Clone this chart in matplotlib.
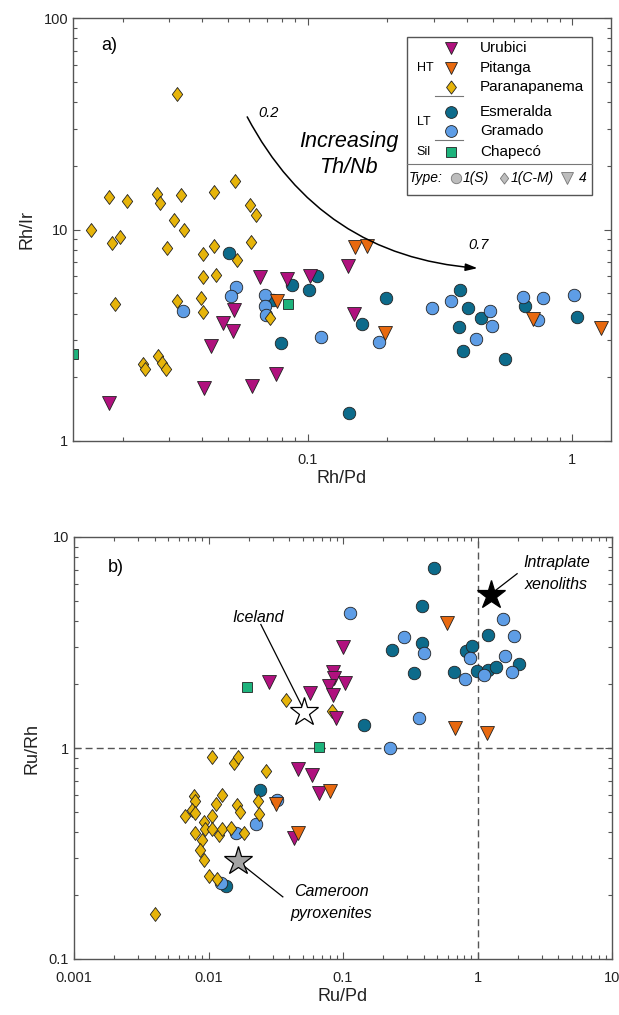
import matplotlib
matplotlib.use("Agg")
import matplotlib.pyplot as plt
from matplotlib.patches import Rectangle
from matplotlib.lines import Line2D

plt.rcParams['font.family'] = ['Liberation Sans', 'DejaVu Sans']

# colours
C_URU = '#B0117E'
C_PIT = '#E8690F'
C_PAR = '#E6B40A'
C_ESM = '#0D6B8B'
C_GRA = '#5E9DE6'
C_CHA = '#1DB37C'
EDGE = '#222222'

DIAMOND = [(0, 1), (0.75, 0), (0, -1), (-0.75, 0), (0, 1)]

# ---------- panel a) Rh/Pd vs Rh/Ir ----------
par_a_x = [0.032, 0.0533, 0.0178, 0.0208, 0.0269, 0.0277, 0.0334, 0.0443, 0.0313, 0.034,
           0.0607, 0.0636, 0.0152, 0.0183, 0.0195, 0.0294, 0.0443, 0.0403, 0.0542, 0.0614,
           0.0403, 0.0449, 0.0188, 0.032, 0.0395, 0.0403, 0.0722, 0.0239, 0.0243, 0.0272,
           0.0281, 0.0292]
par_a_y = [43.6, 17.0, 14.3, 13.6, 14.7, 13.3, 14.5, 15.1, 11.1, 9.95,
           13.0, 11.7, 9.9, 8.6, 9.2, 8.2, 8.4, 7.7, 7.2, 8.7,
           5.94, 6.1, 4.44, 4.6, 4.73, 4.06, 3.8, 2.31, 2.18, 2.52,
           2.33, 2.18]

uru_a_x = [0.0178, 0.0405, 0.0616, 0.0759, 0.043, 0.048, 0.0524, 0.0527, 0.0659, 0.0835,
           0.1023, 0.1416, 0.150]
uru_a_y = [1.51, 1.79, 1.82, 2.07, 2.81, 3.6, 3.32, 4.16, 5.94, 5.85,
           6.03, 6.72, 3.97]

pit_a_x = [0.151, 0.1675, 0.196, 0.708, 1.28, 0.0766]
pit_a_y = [8.3, 8.36, 3.23, 3.76, 3.41, 4.6]

esm_a_x = [0.0506, 0.087, 0.1014, 0.0793, 0.0742, 0.1084, 0.1977, 0.161, 0.1436, 0.376,
           0.402, 0.452, 0.373, 0.388, 0.556, 0.662, 1.04]
esm_a_y = [7.77, 5.47, 5.2, 2.9, 4.64, 6.03, 4.73, 3.56, 1.35, 5.17,
           4.27, 3.8, 3.47, 2.67, 2.43, 4.35, 3.85]

gra_a_x = [0.0339, 0.0535, 0.0513, 0.0691, 0.0691, 0.0694, 0.112, 0.1865, 0.295, 0.348,
           0.49, 0.497, 0.432, 0.649, 0.773, 1.017, 0.739]
gra_a_y = [4.1, 5.37, 4.85, 4.9, 4.35, 3.94, 3.11, 2.93, 4.24, 4.6,
           4.12, 3.5, 3.04, 4.78, 4.73, 4.9, 3.73]

cha_a_x = [0.013, 0.0845]
cha_a_y = [2.58, 4.43]

# ---------- panel b) Ru/Pd vs Ru/Rh ----------
par_b_x = [0.0040, 0.0106, 0.0155, 0.0166, 0.0267, 0.038, 0.0828, 0.00778, 0.0080, 0.0125,
           0.01145, 0.0164, 0.0172, 0.0233, 0.0238, 0.00666, 0.0076, 0.0080, 0.00922, 0.0106,
           0.0094, 0.0080, 0.0089, 0.0107, 0.0119, 0.0127, 0.0147, 0.0184, 0.0087, 0.0092,
           0.0100, 0.0115]
par_b_y = [0.164, 0.906, 0.849, 0.903, 0.776, 1.69, 1.50, 0.595, 0.56, 0.601,
           0.545, 0.537, 0.498, 0.56, 0.489, 0.478, 0.51, 0.49, 0.445, 0.478,
           0.411, 0.396, 0.368, 0.411, 0.389, 0.411, 0.418, 0.396, 0.330, 0.296,
           0.247, 0.240]

uru_b_x = [0.1, 0.0282, 0.0844, 0.085, 0.079, 0.1035, 0.0844, 0.057, 0.0886, 0.0466,
           0.059, 0.0667, 0.043]
uru_b_y = [3.0, 2.05, 2.28, 2.14, 1.97, 2.03, 1.79, 1.82, 1.39, 0.796,
           0.748, 0.612, 0.375]

pit_b_x = [0.590, 0.68, 1.18, 0.080, 0.0316, 0.0459]
pit_b_y = [3.90, 1.24, 1.18, 0.624, 0.54, 0.396]

esm_b_x = [0.475, 0.388, 0.388, 0.230, 0.339, 0.667, 0.816, 0.904, 0.986, 1.20,
           1.20, 1.38, 2.04, 0.143, 0.0241, 0.0136]
esm_b_y = [7.1, 4.7, 3.14, 2.92, 2.26, 2.29, 2.87, 3.05, 2.31, 3.44,
           2.35, 2.43, 2.50, 1.29, 0.635, 0.223]

gra_b_x = [0.113, 0.286, 0.401, 0.37, 0.225, 0.873, 0.805, 1.11, 1.55, 1.88,
           1.61, 1.80, 0.0323, 0.0226, 0.0159, 0.0124]
gra_b_y = [4.38, 3.34, 2.82, 1.39, 1.0, 2.66, 2.13, 2.22, 4.09, 3.38,
           2.74, 2.29, 0.57, 0.434, 0.396, 0.228]

cha_b_x = [0.0194, 0.0667]
cha_b_y = [1.94, 1.01]

# reference compositions (stars)
ref_names = ['Intraplate\nxenoliths', 'Iceland', 'Cameroon\npyroxenites']
ref_x = [1.27, 0.0515, 0.0166]
ref_y = [5.3, 1.48, 0.291]
ref_col = ['black', 'white', '#A3A3A3']


def draw_groups(ax, groups):
    for xs, ys, mk, col, ms in groups:
        ax.plot(xs, ys, ls='none', marker=mk, ms=ms, mfc=col, mec=EDGE, mew=0.6)


def style_axis(ax):
    ax.set_xscale('log')
    ax.set_yscale('log')
    for sp in ax.spines.values():
        sp.set_color('#555555')
        sp.set_linewidth(1.0)
    ax.tick_params(which='both', direction='in', top=True, right=True,
                   colors='#555555', labelcolor='#222222', labelsize=10.5)
    ax.tick_params(which='major', length=5, width=0.8)
    ax.tick_params(which='minor', length=3, width=0.8)


fig = plt.figure(figsize=(6.19, 10.15), dpi=100)

# ---- a)
ax1 = fig.add_axes([73 / 619, 1 - 441 / 1015, 538 / 619, 423 / 1015])
style_axis(ax1)
draw_groups(ax1, [
    (esm_a_x, esm_a_y, 'o', C_ESM, 9),
    (gra_a_x, gra_a_y, 'o', C_GRA, 9),
    (cha_a_x, cha_a_y, 's', C_CHA, 6.5),
    (par_a_x, par_a_y, DIAMOND, C_PAR, 10),
    (uru_a_x, uru_a_y, 'v', C_URU, 9.5),
    (pit_a_x, pit_a_y, 'v', C_PIT, 9.5),
])
ax1.set_xlim(0.013, 1.4)
ax1.set_ylim(1, 100)
ax1.set_xticks([0.1, 1])
ax1.set_xticklabels(['0.1', '1'])
ax1.set_yticks([1, 10, 100])
ax1.set_yticklabels(['1', '10', '100'])
ax1.tick_params(axis='x', pad=9)
ax1.set_xlabel('Rh/Pd', fontsize=13, color='#222222', labelpad=2)
ax1.set_ylabel('Rh/Ir', fontsize=13, color='#222222', labelpad=6)
ax1.text(0.0166, 74, 'a)', fontsize=13, va='center', ha='left')

ax1.annotate('', xy=(0.449, 6.55), xytext=(0.0585, 35),
             arrowprops=dict(arrowstyle='-|>,head_length=0.7,head_width=0.22',
                             connectionstyle='arc3,rad=0.28', color='black', lw=1.1))
ax1.text(0.0649, 35.7, '0.2', fontsize=10.5, style='italic', va='center', ha='left')
ax1.text(0.441, 7.85, '0.7', fontsize=10.5, style='italic', va='bottom', ha='center')
ax1.text(0.1432, 26.0, 'Increasing', fontsize=15.5, style='italic', va='center',
         ha='center')
ax1.text(0.1432, 19.7, 'Th/Nb', fontsize=15.5, style='italic', va='center', ha='center')

# legend drawn by hand inside panel a
tr = ax1.transAxes
ax1.add_patch(Rectangle((0.621, 0.582), 0.344, 0.373, transform=tr, fill=True,
                        fc='white', ec='#555555', lw=1.0, zorder=5))
leg_names = ['Urubici', 'Pitanga', 'Paranapanema', 'Esmeralda', 'Gramado', 'Chapecó']
leg_marks = ['v', 'v', DIAMOND, 'o', 'o', 's']
leg_cols = [C_URU, C_PIT, C_PAR, C_ESM, C_GRA, C_CHA]
leg_sizes = [9, 9, 9.5, 8.5, 8.5, 6.5]
leg_y = [0.930, 0.8825, 0.8376, 0.777, 0.733, 0.684]
for nm, mk, col, ms, yy in zip(leg_names, leg_marks, leg_cols, leg_sizes, leg_y):
    ax1.plot([0.703], [yy], ls='none', marker=mk, ms=ms, mfc=col, mec=EDGE, mew=0.6,
             transform=tr, zorder=6, clip_on=False)
    ax1.text(0.7565, yy, nm, transform=tr, fontsize=11, va='center', ha='left', zorder=6)
for lab, yy in [('HT', 0.8825), ('LT', 0.755), ('Sil', 0.684)]:
    ax1.text(0.639, yy, lab, transform=tr, fontsize=9, va='center', ha='left', zorder=6)
for yy in [0.8156, 0.7116]:
    ax1.add_line(Line2D([0.673, 0.725], [yy, yy], transform=tr, color='#777777',
                        lw=0.8, zorder=6))
ax1.add_line(Line2D([0.621, 0.965], [0.654, 0.654], transform=tr, color='#777777',
                    lw=0.8, zorder=6))
ax1.text(0.625, 0.622, 'Type:', transform=tr, fontsize=10, style='italic',
         va='center', ha='left', zorder=6)
for mk, xx, lab, lx, ms in [('o', 0.712, '1(S)', 0.724, 7.5),
                            (DIAMOND, 0.801, '1(C-M)', 0.813, 8),
                            ('v', 0.918, '4', 0.940, 8)]:
    ax1.plot([xx], [0.622], ls='none', marker=mk, ms=ms, mfc='#BDBDBD', mec='#777777',
             mew=0.6, transform=tr, zorder=6, clip_on=False)
    ax1.text(lx, 0.622, lab, transform=tr, fontsize=10, style='italic',
             va='center', ha='left', zorder=6)

# ---- b)
ax2 = fig.add_axes([74 / 619, 1 - 959 / 1015, 538 / 619, 422 / 1015])
style_axis(ax2)
ax2.axhline(1, color='#555555', lw=1.0, ls=(0, (5, 3)), zorder=1)
ax2.axvline(1, color='#555555', lw=1.0, ls=(0, (5, 3)), zorder=1)
draw_groups(ax2, [
    (esm_b_x, esm_b_y, 'o', C_ESM, 9),
    (gra_b_x, gra_b_y, 'o', C_GRA, 9),
    (cha_b_x, cha_b_y, 's', C_CHA, 6.5),
    (par_b_x, par_b_y, DIAMOND, C_PAR, 10),
    (uru_b_x, uru_b_y, 'v', C_URU, 9.5),
    (pit_b_x, pit_b_y, 'v', C_PIT, 9.5),
])
ax2.set_xlim(0.001, 10)
ax2.set_ylim(0.1, 10)
ax2.set_xticks([0.001, 0.01, 0.1, 1, 10])
ax2.set_xticklabels(['0.001', '0.01', '0.1', '1', '10'])
ax2.set_yticks([0.1, 1, 10])
ax2.set_yticklabels(['0.1', '1', '10'])
ax2.tick_params(axis='x', pad=9)
ax2.set_xlabel('Ru/Pd', fontsize=13, color='#222222', labelpad=2)
ax2.set_ylabel('Ru/Rh', fontsize=13, color='#222222', labelpad=6)
ax2.text(0.00178, 7.2, 'b)', fontsize=13, va='center', ha='left')

# lines from labels to the stars
ax2.plot([1.97, 1.32], [6.7, 5.5], color='black', lw=0.9)
ax2.plot([0.0245, 0.0495], [3.85, 1.58], color='black', lw=0.9)
ax2.plot([0.0172, 0.0357], [0.285, 0.197], color='black', lw=0.9)
for xx, yy, col in zip(ref_x, ref_y, ref_col):
    ax2.plot([xx], [yy], ls='none', marker='*', ms=21, mfc=col, mec='black', mew=0.9,
             zorder=4)
ax2.text(3.87, 6.7, ref_names[0], fontsize=11.5, style='italic', ha='center',
         va='center', linespacing=1.6)
ax2.text(0.0233, 4.17, ref_names[1], fontsize=11.5, style='italic', ha='center',
         va='center')
ax2.text(0.0816, 0.185, ref_names[2], fontsize=11.5, style='italic', ha='center',
         va='center', linespacing=1.6)

fig.savefig('out.png', dpi=100)
